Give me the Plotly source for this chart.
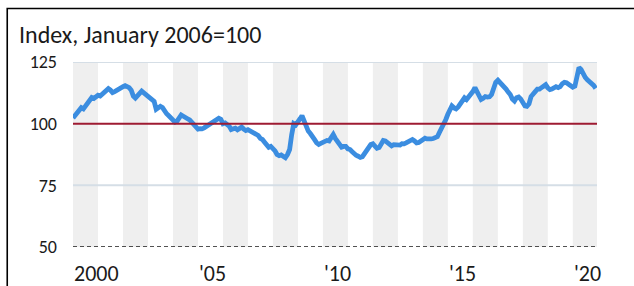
import pandas as pd
import plotly.graph_objects as go

# ---- data ----
start_month = "2000-01-01"
index_values = [
    # 2000
    102.3, 103.2, 104.5, 105.2, 106.5, 106.0, 107.3, 108.6, 109.5, 110.6, 110.2, 110.9,
    # 2001
    111.5, 111.2, 112.0, 112.6, 113.5, 114.2, 113.6, 112.6, 113.0, 113.6, 114.0, 114.8,
    # 2002
    115.0, 115.4, 115.2, 114.6, 113.6, 111.2, 110.4, 111.5, 112.6, 113.2, 112.5, 111.8,
    # 2003
    111.0, 110.5, 110.0, 109.0, 105.8, 106.2, 107.0, 106.5, 105.0, 104.0, 103.2, 102.2,
    # 2004
    101.3, 100.6, 101.0, 102.5, 103.5, 103.0, 102.2, 102.0, 101.5, 100.6, 99.5, 98.3,
    # 2005
    97.8, 98.0, 97.9, 98.3, 98.8, 99.5, 100.2, 100.5, 100.8, 101.6, 102.2, 101.8,
    # 2006
    100.0, 100.3, 99.8, 99.0, 97.6, 98.0, 98.2, 97.5, 98.0, 98.6, 97.8, 97.2,
    # 2007
    97.6, 97.0, 96.5, 95.8, 95.6, 95.2, 94.0, 93.6, 92.5, 91.4, 90.4, 90.8,
    # 2008
    90.0, 89.0, 87.5, 87.0, 87.3, 86.8, 86.2, 87.5, 89.5, 95.5, 100.0, 99.5,
    # 2009
    100.5, 102.0, 103.2, 101.0, 98.5, 97.0, 96.0, 95.0, 93.5, 92.2, 91.6, 92.0,
    # 2010
    92.3, 93.0, 93.2, 93.0, 94.5, 95.6, 94.0, 92.8, 92.2, 90.5, 90.8, 90.8,
    # 2011
    89.8, 89.5, 88.7, 87.6, 87.2, 86.8, 86.3, 86.6, 87.8, 89.5, 90.5, 91.5,
    # 2012
    91.8, 90.6, 90.0, 90.3, 92.0, 93.2, 93.0, 92.2, 91.2, 91.0, 91.5, 91.4,
    # 2013
    91.2, 91.3, 91.9, 91.8, 92.2, 92.6, 93.2, 93.6, 93.0, 92.2, 92.4, 93.0,
    # 2014
    93.7, 94.1, 93.8, 93.6, 93.8, 94.0, 94.2, 94.7, 96.5, 98.0, 99.8, 101.6,
    # 2015
    103.8, 105.5, 107.2, 106.4, 106.0, 106.8, 108.0, 109.4, 110.5, 109.8, 110.8, 111.5,
    # 2016
    113.0, 114.6, 113.0, 110.5, 109.8, 110.3, 111.0, 110.8, 110.9, 111.8, 114.5, 116.8,
    # 2017
    117.6, 116.8, 116.0, 115.0, 114.0, 112.8, 111.8, 110.0, 109.2, 110.5, 110.8, 110.0,
    # 2018
    108.4, 107.2, 107.0, 108.0, 111.0, 112.5, 113.0, 114.0, 114.0, 114.6, 115.4, 115.8,
    # 2019
    114.5, 113.8, 114.0, 114.6, 115.0, 114.6, 115.0, 116.2, 116.8, 116.6, 116.0, 115.3,
    # 2020
    114.8, 115.2, 119.5, 122.8, 122.0, 119.8, 118.8, 117.8, 117.2, 116.5, 115.5, 114.3,
]
band_years = [2000, 2002, 2004, 2006, 2008, 2010, 2012, 2014, 2016, 2018, 2020]
y_ticks = [50, 75, 100, 125]
y_tick_text = ["50", "75", "100", "125"]
x_label_years = [2000, 2005, 2010, 2015, 2020]
x_label_text = ["2000", "'05", "'10", "'15", "'20"]
grid_levels = [75, 125]
base_level = 100
floor_level = 50
title_text = "Index, January 2006=100"

dates = pd.date_range(start_month, periods=len(index_values), freq="MS")

FONT = "Calibri, Carlito, Lato, sans-serif"
TXT = "#1a1a1a"

fig = go.Figure()
fig.add_trace(go.Scatter(
    x=dates, y=index_values, mode="lines",
    line=dict(color="#3b8de0", width=4.8, shape="linear"),
    hoverinfo="skip", showlegend=False,
))

shapes = []
x_end = pd.Timestamp("2020-12-20")
for yr in band_years:
    x1 = min(pd.Timestamp(f"{yr + 1}-01-01"), x_end)
    shapes.append(dict(type="rect", xref="x", yref="paper",
                       x0=pd.Timestamp(f"{yr}-01-01"), x1=x1, y0=0, y1=1,
                       fillcolor="#efefef", line_width=0, layer="below"))
for lv in grid_levels:
    shapes.append(dict(type="line", xref="paper", yref="y", x0=0, x1=1, y0=lv, y1=lv,
                       line=dict(color="#d5dee6", width=2), layer="below"))
shapes.append(dict(type="line", xref="paper", yref="y", x0=0, x1=1,
                   y0=floor_level, y1=floor_level,
                   line=dict(color="#1a1a1a", width=1.3, dash="4px,3px"), layer="above"))
shapes.append(dict(type="line", xref="paper", yref="y", x0=0, x1=1,
                   y0=base_level, y1=base_level,
                   line=dict(color="#9e1b32", width=2), layer="above"))
# outer frame (left and top edges visible)
shapes.append(dict(type="rect", xref="paper", yref="paper",
                   x0=-0.1255, x1=1.5, y0=-1.0, y1=1.2892,
                   line=dict(color="#000000", width=1.6), fillcolor="rgba(0,0,0,0)",
                   layer="above"))

annotations = []
for yr, txt in zip(x_label_years, x_label_text):
    annotations.append(dict(x=pd.Timestamp(f"{yr}-01-01"), xref="x", y=-0.06, yref="paper",
                            text=txt, showarrow=False, xanchor="left", yanchor="top",
                            xshift=-1, font=dict(family=FONT, size=22, color=TXT)))
annotations.append(dict(x=-0.106, xref="paper", y=1.24, yref="paper", text=title_text,
                        showarrow=False, xanchor="left", yanchor="top",
                        font=dict(family=FONT, size=24, color=TXT)))

fig.update_layout(
    width=634, height=286,
    margin=dict(l=73, r=37, t=62, b=39, pad=0),
    paper_bgcolor="white", plot_bgcolor="white",
    shapes=shapes, annotations=annotations,
    xaxis=dict(type="date", range=[pd.Timestamp("2000-01-01"), x_end],
               showgrid=False, zeroline=False, showline=False, showticklabels=False,
               fixedrange=True),
    yaxis=dict(range=[50, 125], tickvals=y_ticks, ticktext=y_tick_text,
               showgrid=False, zeroline=False, showline=False, ticks="",
               ticklabelstandoff=15,
               tickfont=dict(family=FONT, size=18, color=TXT), fixedrange=True),
)

fig.write_html("out.html", config={"displayModeBar": False},
               post_script="document.body.style.margin='0';document.body.style.overflow='hidden';")
